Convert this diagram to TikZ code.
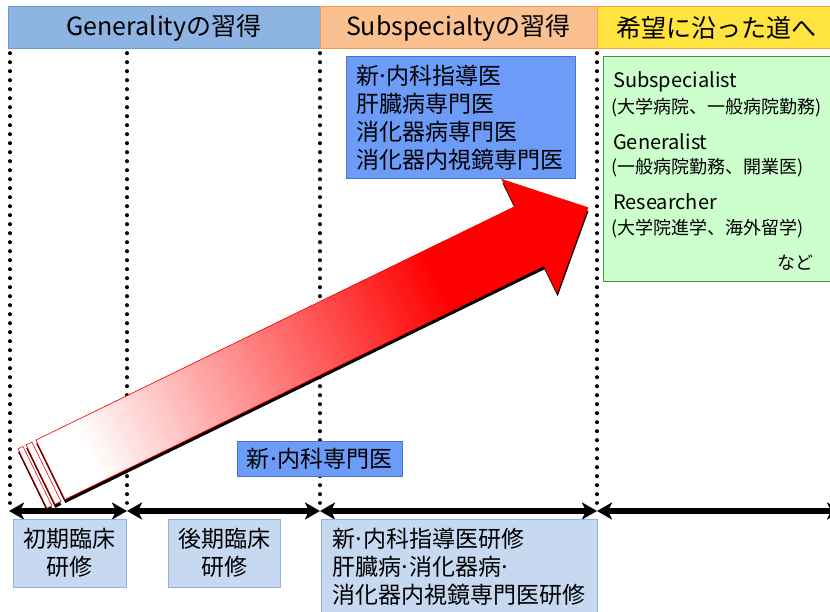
\documentclass[tikz,border=0pt]{standalone}
\usepackage{fontspec}
\setmainfont{Noto Sans CJK JP}
\usetikzlibrary{arrows.meta}
\definecolor{hbluef}{HTML}{8EB4E3}
\definecolor{hblued}{HTML}{6F9BD0}
\definecolor{horangef}{HTML}{FAC090}
\definecolor{horanged}{HTML}{F79646}
\definecolor{hyellowf}{HTML}{FFE33F}
\definecolor{hyellowd}{HTML}{F7A540}
\definecolor{midbluef}{HTML}{6C9CF7}
\definecolor{midblued}{HTML}{4A76C0}
\definecolor{lbluef}{HTML}{C6D9F1}
\definecolor{lblued}{HTML}{8DB4E2}
\definecolor{greenf}{HTML}{CCFFCC}
\definecolor{greend}{HTML}{3C9A3C}
\newcommand\mydot{\kern-2.5pt·\kern-2.5pt}
\begin{document}
\begin{tikzpicture}[x=1pt,y=-1pt,
  box/.style={draw, line width=1pt, anchor=north west, inner sep=0pt, outer sep=0pt},
  hdrtext/.style={font=\fontsize{25}{30}\selectfont},
  bodytext/.style={font=\fontsize{23}{28}\selectfont},
  greenbig/.style={anchor=west, inner sep=0pt, font=\fontsize{20}{24}\selectfont},
  greensmall/.style={anchor=west, inner sep=0pt, font=\fontsize{18}{22}\selectfont},
  dotline/.style={line width=3.6pt, line cap=round, dash pattern=on 0.4pt off 8.6pt},
  axisline/.style={line width=5.5pt, {Stealth[length=15pt,width=17pt,inset=4pt]}-{Stealth[length=15pt,width=17pt,inset=4pt]}},
]
\useasboundingbox (0,0) rectangle (830,612);
% header
\node[box, hdrtext, draw=hblued, fill=hbluef, minimum width=312pt, minimum height=42pt] (h1) at (8,7) {Generalityの習得};
\node[box, hdrtext, draw=horanged, fill=horangef, minimum width=277pt, minimum height=42pt] (h2) at (320,7) {Subspecialtyの習得};
\node[box, hdrtext, draw=hyellowd, fill=hyellowf, minimum width=238pt, minimum height=42pt] (h3) at (597,7) {希望に沿った道へ};
% dotted lines and axis
\coordinate (v0a) at (10,53); \coordinate (v0b) at (10,503);
\coordinate (v1a) at (127,53); \coordinate (v1b) at (127,503);
\coordinate (v2a) at (320,53); \coordinate (v2b) at (320,503);
\coordinate (v3a) at (597,53); \coordinate (v3b) at (597,503);
\foreach \i in {0,1,2,3} {\draw[dotline] (v\i a) -- (v\i b);}
\coordinate (t0) at (9,511);
\coordinate (t1) at (127,511);
\coordinate (t2) at (320,511);
\coordinate (t3) at (597,511);
\coordinate (t4) at (842,511);
\draw[axisline] (t0) -- (t1);
\draw[axisline] (t1) -- (t2);
\draw[axisline] (t2) -- (t3);
\draw[axisline] (t3) -- (t4);
% bottom boxes
\node[box, bodytext, draw=lblued, fill=lbluef, minimum width=113pt, minimum height=68pt, align=center] (b1) at (13,519) {初期臨床\\研修};
\node[box, bodytext, draw=lblued, fill=lbluef, minimum width=112pt, minimum height=68pt, align=center] (b2) at (168,519) {後期臨床\\研修};
\node[box, draw=lblued, fill=lbluef, minimum width=276pt, minimum height=110pt] (b3) at (321,519) {};
\node[bodytext, anchor=west, inner sep=0pt, align=left] (b3t) at (332,567) {新\mydot 内科指導医研修\\肝臓病\mydot 消化器病\mydot\\消化器内視鏡専門医研修};
% big arrow
\begin{scope}[shift={(32.5,478.5)}, rotate=26]
  \foreach \a/\b in {0/5.5, 9/15.5} {
    \fill[black] (\a-1.3,-30) rectangle (\b-1.1,36.4);
    \filldraw[fill=white, draw=red, line width=0.6pt] (\a,-33) rectangle (\b,33);
  }
  \fill[black] (18.7,-29.6) -- (551.9,-29.6) -- (551.9,-59.6) -- (616.9,3.4) -- (551.9,66.4) -- (551.9,36.4) -- (18.7,36.4) -- cycle;
  \fill[red] (20,-33) -- (553,-33) -- (553,-63) -- (618,0) -- (553,63) -- (553,33) -- (20,33) -- cycle;
  \begin{scope}
    \clip (20,-33) -- (553,-33) -- (553,-63) -- (618,0) -- (553,63) -- (553,33) -- (20,33) -- cycle;
    \foreach \s in {18,22,...,470} {
      \pgfmathsetmacro\pct{max(0,min(100,(\s-60)/3.9))}
      \fill[red!\pct!white] (\s,-70) rectangle (\s+4.6,70);
    }
  \end{scope}
  \draw[red, line width=0.6pt] (20,-33) -- (553,-33) -- (553,-63) -- (618,0) -- (553,63) -- (553,33) -- (20,33) -- cycle;
\end{scope}
% top box
\node[box, bodytext, draw=midblued, fill=midbluef, minimum width=229pt, minimum height=122pt, text width=209pt, align=left] (tb) at (346,57) {新\mydot 内科指導医\\肝臓病専門医\\消化器病専門医\\消化器内視鏡専門医};
% middle box
\node[box, bodytext, draw=midblued, fill=midbluef, minimum width=165pt, minimum height=35pt] (mb) at (237,441) {新\mydot 内科専門医};
% green box
\node[box, draw=greend, fill=greenf, minimum width=235pt, minimum height=225pt] (gb) at (603,57) {};
\node[greenbig] (g1) at (613,82) {Subspecialist};
\node[greensmall] (g2) at (611,108) {(大学病院、一般病院勤務)};
\node[greenbig] (g3) at (613,142) {Generalist};
\node[greensmall] (g4) at (611,168) {(一般病院勤務、開業医)};
\node[greenbig] (g5) at (613,202) {Researcher};
\node[greensmall] (g6) at (611,229) {(大学院進学、海外留学)};
\node[greensmall, anchor=east] (g7) at (814,263) {など};
\end{tikzpicture}
\end{document}
